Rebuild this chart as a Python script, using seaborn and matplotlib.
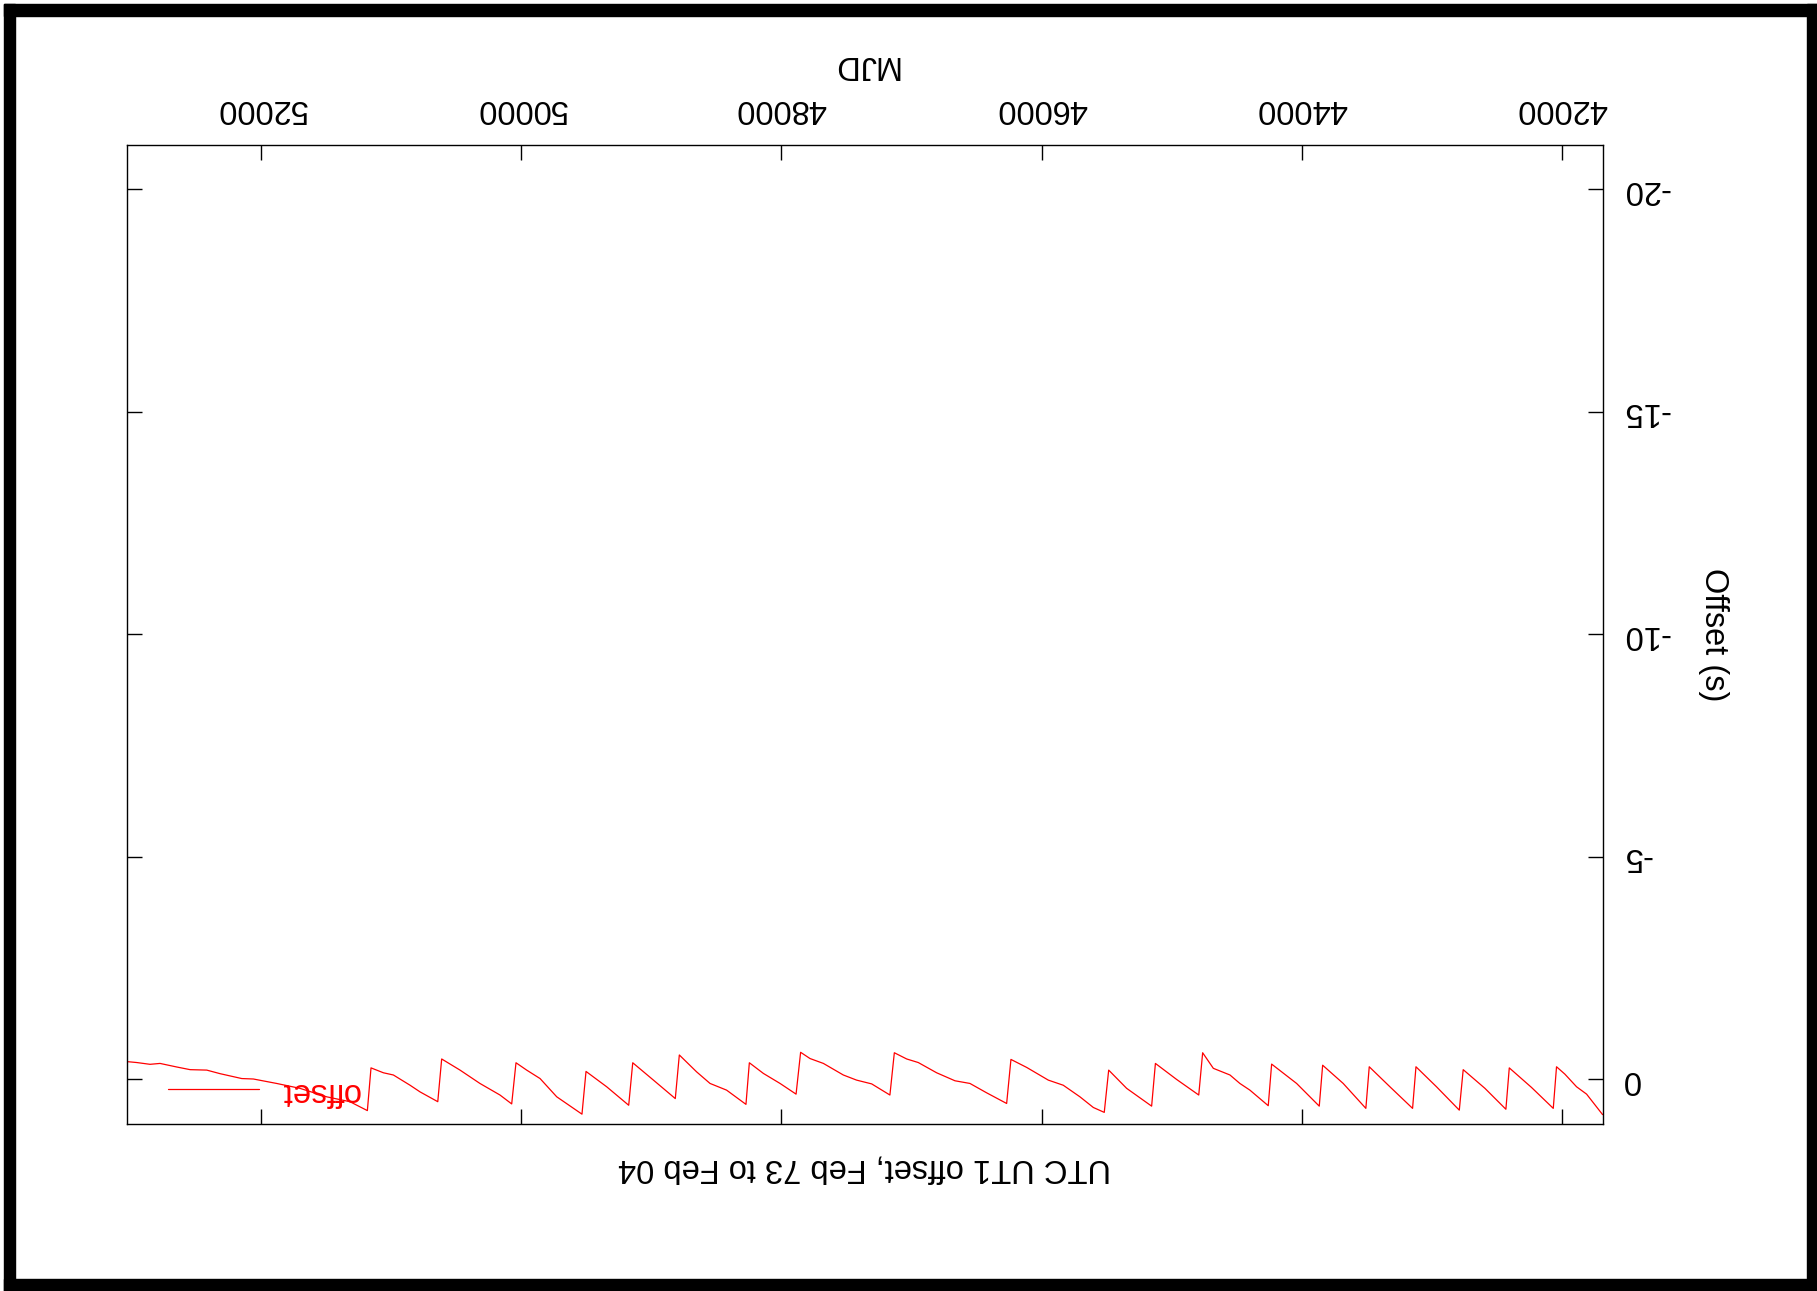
import pandas as pd
import seaborn as sns
import matplotlib.pyplot as plt
from matplotlib.patches import Rectangle

# UT1-UTC values (MJD, seconds)
mjd = [41690, 41813, 41890, 41980, 42044,
       42069, 42236, 42407,
       42433, 42594, 42761,
       42791, 42966, 43124,
       43150, 43324, 43483,
       43509, 43683, 43841,
       43867, 44041, 44233,
       44259, 44400, 44477, 44553, 44681, 44763,
       44793, 44963, 45126,
       45155, 45347, 45485,
       45519, 45603, 45706, 45834, 45949, 46115, 46236,
       46269, 46423, 46551, 46666, 46807, 46948, 47037, 47132,
       47166, 47306, 47422, 47524, 47677, 47780, 47852,
       47887, 48010, 48138, 48246,
       48272, 48421, 48548, 48651, 48784,
       48815, 48983, 49142,
       49173, 49342, 49501,
       49532, 49726, 49854, 49957, 50039,
       50072, 50162, 50316, 50469, 50610,
       50640, 50776, 50853, 50981, 51058, 51153,
       51181, 51315, 51494, 51699, 51878, 52057, 52146, 52313, 52415,
       52543, 52646, 52774, 52851, 52953, 53025]
offset = [0.79, 0.33, 0.165, -0.12, -0.285,
          0.65, 0.18, -0.26,
          0.67, 0.20, -0.22,
          0.69, 0.165, -0.285,
          0.65, 0.165, -0.285,
          0.65, 0.09, -0.32,
          0.60, 0.09, -0.345,
          0.59, 0.24, 0.09, -0.10, -0.25, -0.60,
          0.35, 0.0, -0.36,
          0.60, 0.20, -0.21,
          0.74, 0.63, 0.39, 0.13, 0.015, -0.27, -0.45,
          0.54, 0.30, 0.09, 0.03, -0.15, -0.38, -0.46, -0.60,
          0.35, 0.10, 0.015, -0.10, -0.36, -0.47, -0.61,
          0.33, 0.09, -0.135, -0.375,
          0.56, 0.24, 0.09, -0.17, -0.55,
          0.43, 0.015, -0.375,
          0.58, 0.165, -0.18,
          0.78, 0.39, -0.02, -0.21, -0.375,
          0.55, 0.35, 0.09, -0.21, -0.46,
          0.50, 0.28, 0.13, -0.10, -0.15, -0.26,
          0.70, 0.50, 0.39, 0.20, 0.09, -0.01, -0.02, -0.13, -0.21,
          -0.22, -0.28, -0.36, -0.34, -0.38, -0.40]

xticks = [42000, 44000, 46000, 48000, 50000, 52000]
yticks = [0, -5, -10, -15, -20]

df = pd.DataFrame({"MJD": mjd, "offset": offset})

sns.set_style("ticks")
plt.rcParams['font.family'] = ['Liberation Sans', 'DejaVu Sans']
plt.rcParams['axes.unicode_minus'] = False
plt.rcParams['text.color'] = 'black'
plt.rcParams['axes.labelcolor'] = 'black'
fs = 23.5

fig = plt.figure(figsize=(18.17, 12.91), dpi=100)
ax = fig.add_axes([0.0701, 0.1294, 0.8119, 0.7583])

sns.lineplot(data=df, x="MJD", y="offset", color="red", linewidth=0.9,
             estimator=None, label="offset", ax=ax)

# the whole chart is upside down: flip both axes, put the labels on top/right
ax.set_xlim(max(mjd), min(mjd))
ax.set_ylim(1, -21)
ax.set_xticks(xticks)
ax.set_yticks(yticks)
for s in ax.spines.values():
    s.set_visible(True)
    s.set_linewidth(1.0)
    s.set_color("black")
ax.tick_params(direction="in", length=10.8, width=1.0, top=True, bottom=True,
               left=True, right=True, labeltop=True, labelbottom=False,
               labelright=True, labelleft=False, labelsize=fs, colors="black")
ax.tick_params(axis="x", pad=15)
ax.tick_params(axis="y", pad=14)
for t in ax.get_xticklabels():
    t.set_rotation(180)
for t in ax.get_yticklabels():
    t.set_rotation(180)
    t.set_va("center")

ax.set_xlabel("MJD", fontsize=fs, rotation=180, ha="center", va="center")
ax.xaxis.set_label_coords(0.5, 1.0827)
ax.set_ylabel("Offset (s)", fontsize=fs, rotation=270, ha="center", va="center")
ax.yaxis.set_label_coords(1.0755, 0.5)

ax.text(0.4995, -0.045, "UTC UT1 offset, Feb 73 to Feb 04", transform=ax.transAxes,
        fontsize=fs, rotation=180, ha="center", va="center")

leg = ax.legend(loc="center left", bbox_to_anchor=(0.0923, 0.1545),
                bbox_transform=fig.transFigure, frameon=False, fontsize=fs,
                handlelength=2.8, handletextpad=0.65, borderpad=0,
                borderaxespad=0, labelcolor="red")
for t in leg.get_texts():
    t.set_rotation(180)

# thick black frame round the picture
W, H = 1817, 1291
for x0, y0, x1, y1 in [(4, 4, 15, 1291), (4, 4, 1817, 16),
                       (1807, 4, 1817, 1291), (4, 1279, 1817, 1291)]:
    fig.patches.append(Rectangle((x0 / W, 1 - y1 / H), (x1 - x0) / W, (y1 - y0) / H,
                                 transform=fig.transFigure, color="black", zorder=10))

plt.savefig("out.png", dpi=100)
